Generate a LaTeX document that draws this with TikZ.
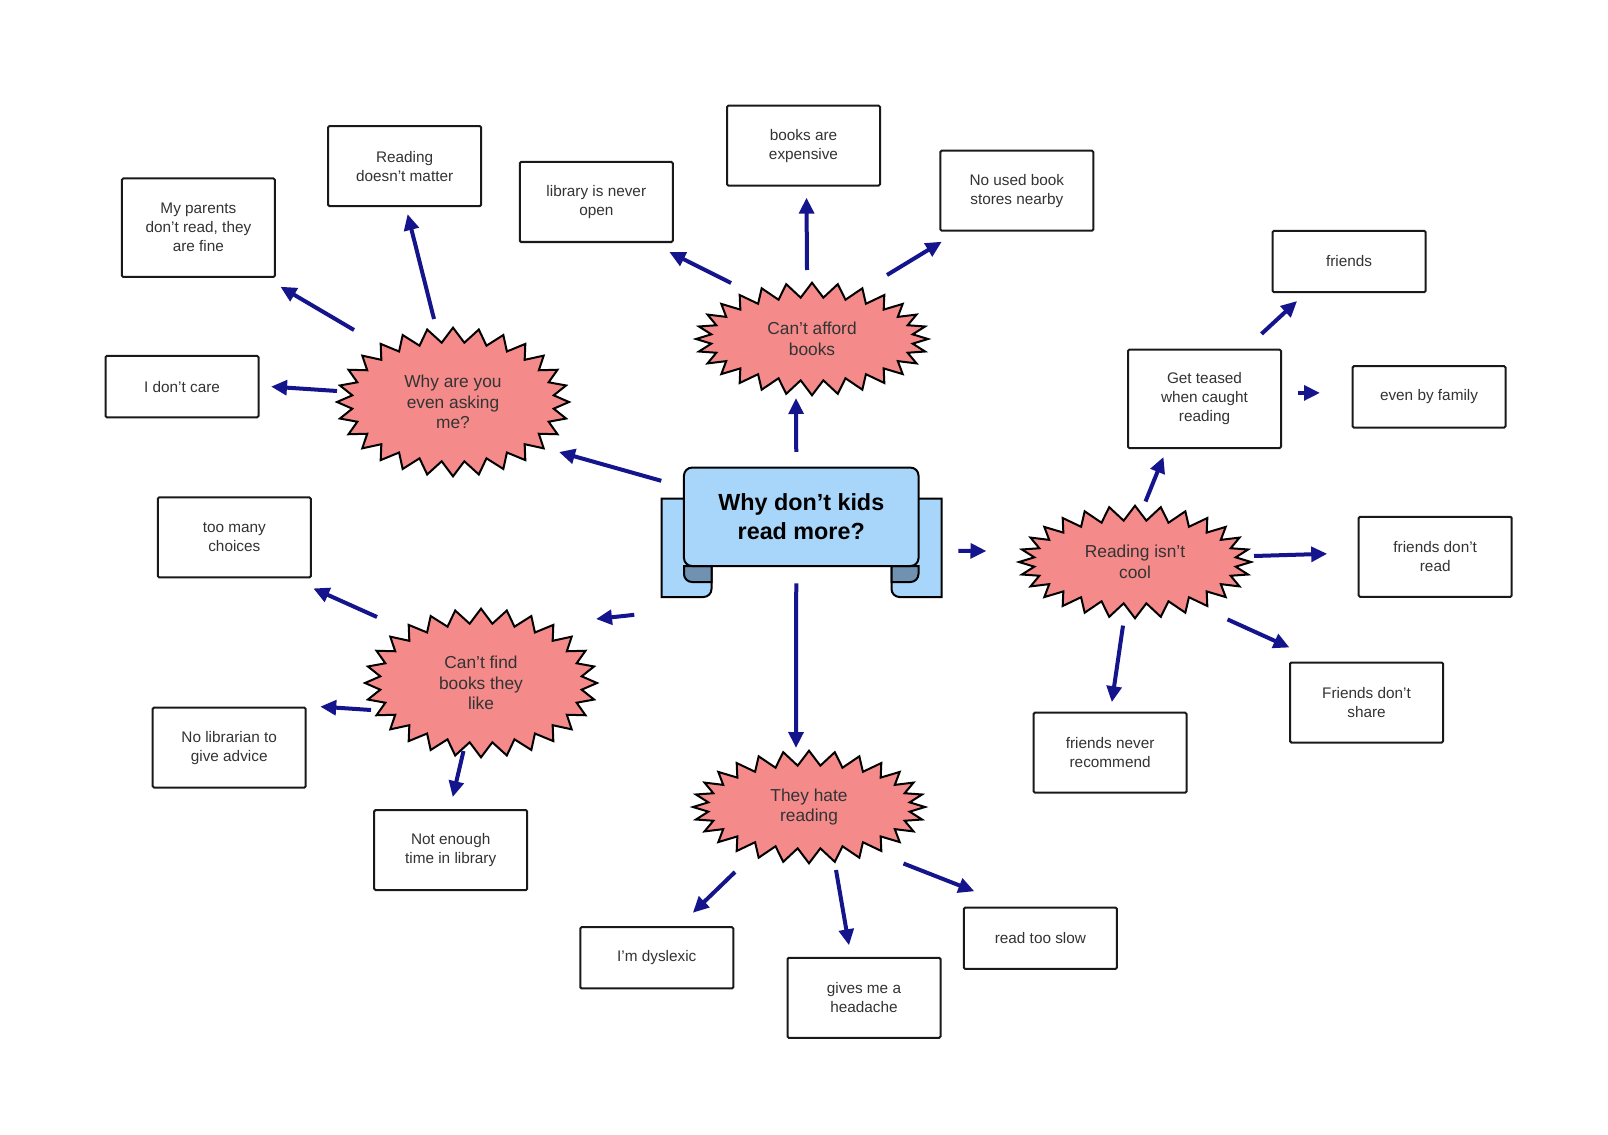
\documentclass[tikz,border=0pt]{standalone}
\usepackage{fontspec}
\setmainfont{Liberation Sans}
\usetikzlibrary{shapes.symbols,arrows.meta,calc}

\definecolor{navy}{RGB}{20,20,140}
\definecolor{burstred}{RGB}{245,138,138}
\definecolor{ribbon}{RGB}{168,214,250}
\definecolor{ribbondark}{RGB}{112,146,176}

\tikzset{
  box/.style={draw=black!90, line width=1.5pt, rounded corners=1pt, fill=white,
    align=center, text=black!80, font=\fontsize{11.5}{14.2}\selectfont,
    minimum width=114.75pt, minimum height=60pt, inner sep=2pt},
  tallbox/.style={box, minimum height=73.8pt},
  lowbox/.style={box, minimum height=46pt},
  burst/.style={starburst, starburst points=28, starburst point height=11pt,
    random starburst=0, draw=black, line width=1.5pt, fill=burstred,
    align=center, text=black!80, font=\fontsize{13}{15.4}\selectfont,
    minimum width=174pt, minimum height=84.4pt, inner sep=0pt},
  bigburst/.style={burst, minimum height=111.5pt},
  arr/.style={navy, line width=3pt, -{Triangle[length=12pt,width=11pt]}},
  tail/.style={draw=black, line width=1.5pt, fill=ribbon},
  fold/.style={draw=black, line width=1.5pt, fill=ribbondark},
}

\begin{document}
\begin{tikzpicture}[x=0.75pt,y=-0.75pt]
        \useasboundingbox (0,0) rectangle (1608,1134);
        \fill[white] (0,0) rectangle (1608,1134);

        % Banner tails
        \draw[tail] (661.5,498.5) -- (661.5,597) -- (703.5,597)
            arc[start angle=270,end angle=360,radius=6pt] -- (711.5,498.5) -- cycle;
        \draw[fold] (684,566) -- (684,574)
            arc[start angle=180,end angle=270,radius=6pt] -- (711.5,582) -- (711.5,566) -- cycle;
        \draw[tail] (941.5,498.5) -- (941.5,597) -- (899.5,597)
            arc[start angle=270,end angle=180,radius=6pt] -- (891.5,498.5) -- cycle;
        \draw[fold] (918.5,566) -- (918.5,574)
            arc[start angle=0,end angle=-90,radius=6pt] -- (891.5,582) -- (891.5,566) -- cycle;

        % Banner
        \node[draw=black, line width=1.5pt, fill=ribbon, rounded corners=6pt,
            minimum width=175.9pt, minimum height=73.8pt, align=center,
            font=\bfseries\fontsize{17.5}{21.5}\selectfont] (ban) at (801.25,516.8)
            {Why don't kids\\read more?};

        % Reasons
        \node[bigburst] (why) at (453,402) {Why are you\\even asking\\me?};
        \node[burst] (afford) at (812,339) {Can't afford\\books};
        \node[burst] (cool) at (1135,562) {Reading isn't\\cool};
        \node[bigburst] (find) at (481,683) {Can't find\\books they\\like};
        \node[burst] (hate) at (809,807) {They hate\\reading};

        % Why are you even asking me?
        \node[tallbox] (parents) at (198.4,227.7) {My parents\\don't read, they\\are fine};
        \node[box] (matter) at (404.6,166.1) {Reading\\doesn't matter};
        \node[lowbox] (dontcare) at (182,386.6) {I don't care};

        % Can't afford books
        \node[box] (library) at (596.3,202) {library is never\\open};
        \node[box] (expensive) at (803.5,145.6) {books are\\expensive};
        \node[box] (usedbooks) at (1016.8,190.7) {No used book\\stores nearby};

        % Reading isn't cool
        \node[tallbox] (teased) at (1204.5,398.9) {Get teased\\when caught\\reading};
        \node[lowbox] (friends) at (1349.1,261.5) {friends};
        \node[lowbox] (family) at (1429,396.9) {even by family};
        \node[box] (dontread) at (1435.2,556.8) {friends don't\\read};
        \node[box] (dontshare) at (1366.5,702.5) {Friends don't\\share};
        \node[box] (recommend) at (1110.1,752.7) {friends never\\recommend};

        % Can't find books they like
        \node[box] (choices) at (234.3,537.4) {too many\\choices};
        \node[box] (librarian) at (229.2,747.6) {No librarian to\\give advice};
        \node[box] (notime) at (450.7,850.1) {Not enough\\time in library};

        % They hate reading
        \node[lowbox] (dyslexic) at (656.8,957.8) {I'm dyslexic};
        \node[box] (headache) at (864,997.8) {gives me a\\headache};
        \node[lowbox] (slow) at (1040.4,938.3) {read too slow};

        % Arrows from the banner
        \draw[arr] ($(ban)+(-140,-36)$) -- ($(why)+(106,50)$);
        \draw[arr] ($(ban)+(-5,-65)$) -- ($(afford)+(-16,59)$);
        \draw[arr] ($(ban)+(157,34)$) -- ($(cool)+(-148.5,-11)$);
        \draw[arr] ($(ban)+(-167,98)$) -- ($(find)+(115,-64)$);
        \draw[arr] ($(ban)+(-5,66.5)$) -- ($(hate)+(-13,-59)$);

        % Arrows from the reasons
        \draw[arr] ($(why)+(-99,-72)$) -- ($(parents)+(82,59)$);
        \draw[arr] ($(why)+(-19,-83)$) -- ($(matter)+(3,48)$);
        \draw[arr] ($(why)+(-116,-11)$) -- ($(dontcare)+(89,0)$);

        \draw[arr] ($(afford)+(-81,-56)$) -- ($(library)+(73,50)$);
        \draw[arr] ($(afford)+(-5,-69)$) -- ($(expensive)+(3,52)$);
        \draw[arr] ($(afford)+(75,-64)$) -- ($(usedbooks)+(-75,51)$);

        \draw[arr] ($(cool)+(10.5,-60.5)$) -- ($(teased)+(-41,58)$);
        \draw[arr] ($(cool)+(119,-6)$) -- ($(dontread)+(-108,-3)$);
        \draw[arr] ($(cool)+(92.5,57.4)$) -- ($(dontshare)+(-77,-55)$);
        \draw[arr] ($(cool)+(-12,63.6)$) -- ($(recommend)+(1.7,-50.5)$);
        \draw[arr] ($(teased)+(57,-65)$) -- ($(friends)+(-52,39.5)$);
        \draw[arr] ($(teased)+(93,-6)$) -- ($(family)+(-109,-4)$);

        \draw[arr] ($(find)+(-104,-66)$) -- ($(choices)+(79,51)$);
        \draw[arr] ($(find)+(-110,27)$) -- ($(librarian)+(91,-41)$);
        \draw[arr] ($(find)+(-17.5,68)$) -- ($(notime)+(2,-53)$);

        \draw[arr] ($(hate)+(-74,65)$) -- ($(dyslexic)+(36,-45)$);
        \draw[arr] ($(hate)+(27,63)$) -- ($(headache)+(-15,-52.5)$);
        \draw[arr] ($(hate)+(94.5,56.5)$) -- ($(slow)+(-66,-47)$);
    \end{tikzpicture}
\end{document}
